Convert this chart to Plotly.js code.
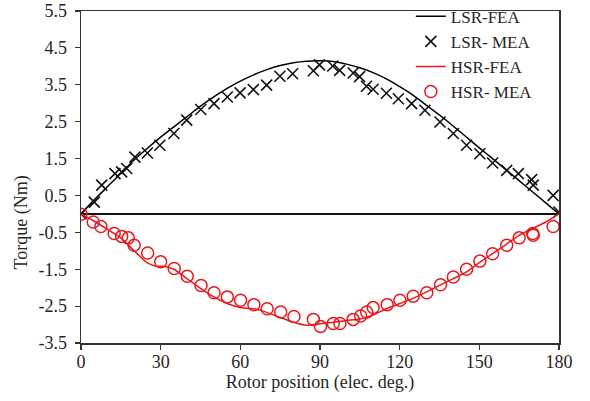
<!DOCTYPE html>
<html>
<head>
<meta charset="utf-8">
<script src="https://cdn.plot.ly/plotly-3.0.1.min.js"></script>
<style>html,body{margin:0;padding:0;background:#fff;}#chart{width:590px;height:401px;}</style>
</head>
<body>
<div id="chart"></div>
<script>
// LSR-FEA curve
const lsrFeaX = [0,5,10,15,20,25,30,35,40,45,50,55,60,65,70,75,80,85,90,95,100,105,110,115,120,125,130,135,140,145,150,155,160,165,170,175,180];
const lsrFeaY = [0,0.38,0.74,1.10,1.46,1.78,2.08,2.36,2.64,2.92,3.17,3.40,3.60,3.77,3.91,4.02,4.10,4.14,4.15,4.13,4.06,3.96,3.83,3.66,3.45,3.22,2.95,2.68,2.39,2.09,1.79,1.50,1.20,0.90,0.60,0.30,0];
// LSR-MEA points
const lsrMeaX = [0,5,7.8,12.8,15.3,17.2,20.3,25,29.7,35,39.8,45.1,50.1,55.1,59.9,64.9,69.9,74.9,79.7,87.5,89.8,94.8,97.4,102.5,104.9,107.5,110,115,119.5,124.5,129.5,135.2,140.2,145.2,150.2,155,160.3,164.7,169.7,170.3,177.8,180];
const lsrMeaY = [0,0.32,0.78,1.09,1.14,1.23,1.54,1.65,1.86,2.18,2.54,2.83,2.99,3.17,3.28,3.37,3.49,3.73,3.80,3.88,4.04,4.01,3.89,3.82,3.72,3.46,3.38,3.27,3.12,2.99,2.81,2.49,2.18,1.86,1.63,1.38,1.18,1.09,0.93,0.78,0.50,0.05];
// HSR-FEA curve
const hsrFeaX = [0,5,10,15,20,25,28,32,35,40,45,50,55,60,65,70,75,80,85,90,95,100,105,110,115,120,125,130,135,140,145,150,155,160,165,170,175,180];
const hsrFeaY = [0,-0.20,-0.42,-0.65,-1.00,-1.33,-1.41,-1.43,-1.50,-1.76,-2.02,-2.25,-2.43,-2.54,-2.57,-2.67,-2.81,-2.94,-3.02,-2.98,-2.94,-2.89,-2.85,-2.74,-2.57,-2.43,-2.29,-2.12,-1.94,-1.76,-1.58,-1.32,-1.08,-0.83,-0.58,-0.40,-0.22,0];
// HSR-MEA points
const hsrMeaX = [0,4.6,7.5,12.5,15.3,17.8,20,25.1,30,35.1,40,45.2,50.1,55.1,60.1,65.1,70.1,75.2,80.2,87.5,90.2,95,97.5,102.5,105.3,107.6,110,115.3,120.1,125.1,130.2,135.4,140.2,145.2,150.2,155,160.3,165,170.1,170.3,177.8];
const hsrMeaY = [-0.01,-0.22,-0.34,-0.53,-0.61,-0.65,-0.85,-1.06,-1.30,-1.48,-1.69,-1.94,-2.14,-2.25,-2.34,-2.46,-2.57,-2.66,-2.78,-2.86,-3.05,-2.97,-2.97,-2.86,-2.77,-2.66,-2.54,-2.46,-2.34,-2.23,-2.14,-1.92,-1.71,-1.50,-1.28,-1.08,-0.85,-0.65,-0.53,-0.58,-0.34];

const yTicks = [-3.5,-2.5,-1.5,-0.5,0.5,1.5,2.5,3.5,4.5,5.5];
const xTicks = [0,30,60,90,120,150,180];
const RED = '#e8191e';
const FONT = 'Liberation Serif, Times New Roman, serif';
const TXT = '#262626';

const traces = [
  {x: lsrFeaX, y: lsrFeaY, name: 'LSR-FEA', mode: 'lines', line: {color: '#000', width: 1.5, shape: 'spline', smoothing: 0.6}},
  {x: lsrMeaX, y: lsrMeaY, name: 'LSR- MEA', mode: 'markers', marker: {symbol: 'x-thin-open', size: 11, color: '#111', line: {color: '#111', width: 1.6}}},
  {x: hsrFeaX, y: hsrFeaY, name: 'HSR-FEA', mode: 'lines', line: {color: RED, width: 1.5, shape: 'spline', smoothing: 0.6}},
  {x: hsrMeaX, y: hsrMeaY, name: 'HSR- MEA', mode: 'markers', marker: {symbol: 'circle-open', size: 12, color: RED, line: {color: RED, width: 1.5}}}
];

const layout = {
  width: 590, height: 401,
  margin: {l: 81, r: 31, t: 11, b: 58, autoexpand: false},
  paper_bgcolor: '#fff', plot_bgcolor: '#fff',
  font: {family: FONT, size: 18, color: TXT},
  showlegend: true,
  legend: {x: 0.69, xanchor: 'left', y: 1.037, yanchor: 'top', bgcolor: 'rgba(0,0,0,0)', font: {family: FONT, size: 17, color: TXT}, tracegroupgap: 0, itemwidth: 30},
  xaxis: {
    range: [0, 180], tickvals: xTicks, ticktext: xTicks.map(String),
    showgrid: false, zeroline: false, showline: true, linecolor: '#333', linewidth: 1.5, mirror: true,
    ticks: 'outside', ticklen: 5, tickwidth: 1.2, tickcolor: '#333', ticklabelstandoff: -3,
    tickfont: {family: FONT, size: 18, color: TXT},
    title: {text: 'Rotor position (elec. deg.)', font: {family: FONT, size: 18, color: TXT}, standoff: 0}
  },
  yaxis: {
    range: [-3.5, 5.5], tickvals: yTicks, ticktext: yTicks.map(v => v.toFixed(1)),
    showgrid: false, zeroline: true, zerolinecolor: '#111', zerolinewidth: 1.5,
    showline: true, linecolor: '#333', linewidth: 1.5, mirror: true,
    ticks: 'outside', ticklen: 5, tickwidth: 1.2, tickcolor: '#333', ticklabelstandoff: 4,
    tickfont: {family: FONT, size: 18, color: TXT}
  },
  annotations: [{
    text: 'Torque (Nm)', xref: 'paper', yref: 'paper', x: -0.125, y: 0.364,
    xanchor: 'center', yanchor: 'middle', textangle: -90, showarrow: false,
    font: {family: FONT, size: 18, color: TXT}
  }]
};

Plotly.newPlot('chart', traces, layout, {displayModeBar: false, staticPlot: true});
</script>
</body>
</html>
